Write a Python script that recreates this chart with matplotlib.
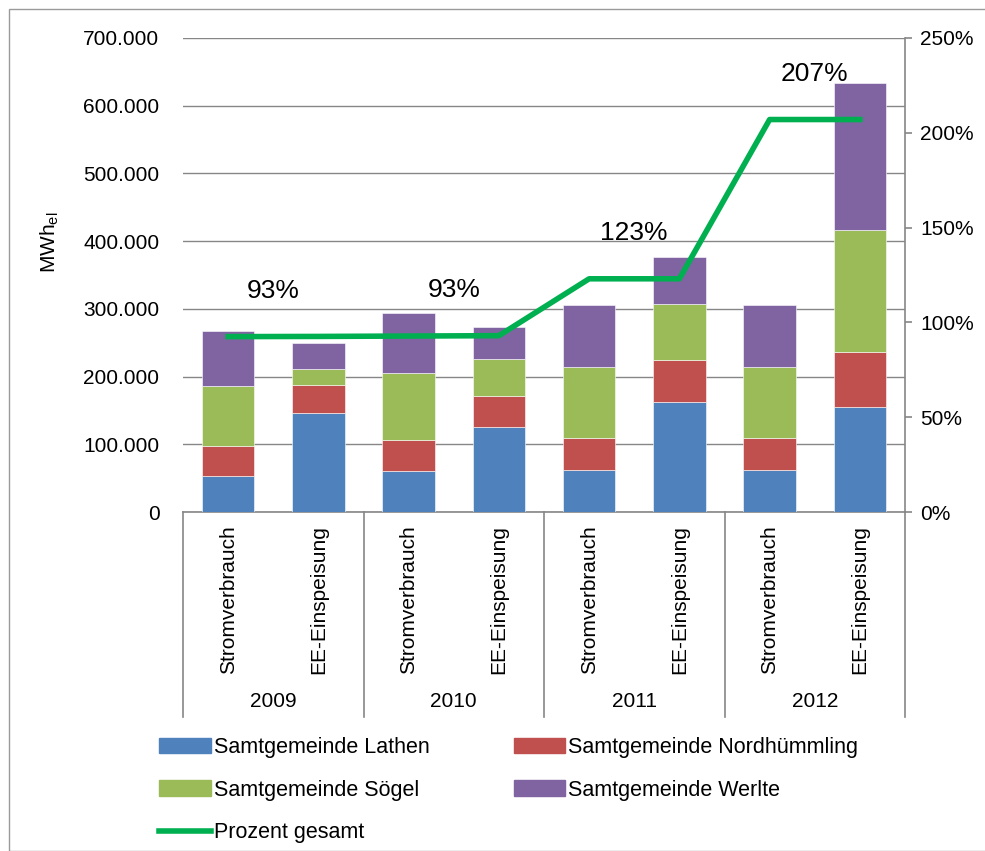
import numpy as np
import matplotlib.pyplot as plt
from matplotlib.ticker import FuncFormatter, MultipleLocator
from matplotlib.patches import Rectangle, Patch
from matplotlib.lines import Line2D

plt.rcParams['font.family'] = ['Liberation Sans', 'DejaVu Sans']
plt.rcParams['mathtext.fontset'] = 'custom'
plt.rcParams['mathtext.rm'] = 'Liberation Sans'

# daten (MWh_el)
jahre = ['2009', '2010', '2011', '2012']
kategorien = ['Stromverbrauch', 'EE-Einspeisung'] * 4
lathen = [53000, 146000, 60000, 125000, 62000, 162000, 62000, 155000]
nordhuemmling = [45000, 42000, 47000, 47000, 48000, 62000, 48000, 81000]
soegel = [88000, 23000, 98000, 54000, 104000, 83000, 104000, 180000]
werlte = [82000, 38000, 89000, 47000, 91000, 69000, 91000, 217000]
prozent = [92.5, 92.6, 92.8, 93.0, 123, 123, 207, 207]
prozent_label = [93, 93, 123, 207]

farben = ['#4F81BD', '#C0504D', '#9BBB59', '#8064A2']
gruen = '#00B050'

W, H = 985, 851
fig = plt.figure(figsize=(W / 100, H / 100), dpi=100)
# rahmen vom diagrammbereich
fig.patches.append(Rectangle((9 / W, 0), 2, 1 - 9 / H, transform=fig.transFigure,
                             fill=False, edgecolor='#9a9a9a', lw=1.0))

L, R, T, B = 183, 905, 38, 512
ax = fig.add_axes([L / W, 1 - B / H, (R - L) / W, (B - T) / H])
x = np.arange(len(kategorien))
bw = 0.58

unten = np.zeros(len(x))
for werte, c in zip([lathen, nordhuemmling, soegel, werlte], farben):
    ax.bar(x, werte, bw, bottom=unten, color=c, edgecolor='white', linewidth=0.4, zorder=3)
    unten += np.array(werte)

ax.set_xlim(-0.5, len(x) - 0.5)
ax.set_ylim(0, 700000)
ax.yaxis.set_major_locator(MultipleLocator(100000))
ax.yaxis.set_major_formatter(FuncFormatter(lambda v, p: f"{int(v):,}".replace(',', '.')))
ax.grid(axis='y', color='#868686', lw=1.0, zorder=0)
ax.tick_params(axis='y', length=0, pad=17, labelsize=15)
ax.set_xticks([])
for s in ['left', 'right', 'top']:
    ax.spines[s].set_visible(False)
ax.spines['bottom'].set_color('#868686')
ax.spines['bottom'].set_linewidth(1.2)

# kategorien und jahre unter der achse
tr = ax.get_xaxis_transform()
for xi, k in zip(x, kategorien):
    ax.text(xi, -0.027, k, rotation=90, ha='center', va='top', fontsize=15, transform=tr)
for i, j in enumerate(jahre):
    ax.text(2 * i + 0.5, -0.40, j, ha='center', va='center', fontsize=15, transform=tr)
for xs in np.arange(-0.5, len(x), 2):
    ax.plot([xs, xs], [0, -0.432], color='#868686', lw=1.2, transform=tr, clip_on=False)

# prozent auf zweiter achse
ax2 = ax.twinx()
ax2.plot(x, prozent, color=gruen, lw=4, zorder=5)
ax2.set_ylim(0, 250)
ax2.yaxis.set_major_locator(MultipleLocator(50))
ax2.yaxis.set_major_formatter(FuncFormatter(lambda v, p: f"{int(v)}%"))
ax2.tick_params(axis='y', length=5, width=1.2, color='#868686', pad=6, labelsize=15)
for s in ['left', 'top', 'bottom']:
    ax2.spines[s].set_visible(False)
ax2.spines['right'].set_color('#868686')
ax2.spines['right'].set_linewidth(1.2)

for i, v in enumerate(prozent_label):
    ax2.annotate(f"{v}%", (2 * i + 0.5, prozent[2 * i + 1]), xytext=(0, 33),
                 textcoords='offset points', ha='center', va='center', fontsize=19)

fig.text(50 / W, 1 - 242 / H, r'MWh$_{\mathrm{el}}$', rotation=90, ha='center', va='center', fontsize=15)

namen = ['Samtgemeinde Lathen', 'Samtgemeinde Nordhümmling',
         'Samtgemeinde Sögel', 'Samtgemeinde Werlte']
h = [Patch(color=c) for c in farben]
linie = Line2D([0], [0], color=gruen, lw=4)
handles = [h[0], h[2], linie, h[1], h[3]]
labels = [namen[0], namen[2], 'Prozent gesamt', namen[1], namen[3]]
fig.legend(handles, labels, loc='upper left', bbox_to_anchor=(159 / W, 1 - 737 / H),
           ncol=2, frameon=False, fontsize=15.5, handlelength=2.4, handleheight=0.7,
           handletextpad=0.15, columnspacing=3.9, labelspacing=1.0, borderaxespad=0,
           borderpad=0)

fig.savefig('out.png', dpi=100)
